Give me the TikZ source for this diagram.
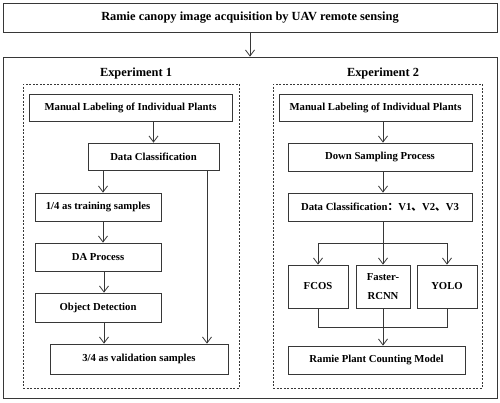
\documentclass[tikz,border=0pt]{standalone}
\usepackage{fontspec}
\setmainfont{Liberation Serif}
\newfontfamily\cjk{Noto Sans CJK SC}
\usepackage{tikz}
\usetikzlibrary{positioning}
\usetikzlibrary{arrows.meta}
\definecolor{linegray}{RGB}{55,55,55}

\begin{document}
\begin{tikzpicture}[x=1pt, y=-1pt]

\tikzset{box/.style={
		draw=linegray,
		line width=0.8pt,
		minimum width=#1,
		minimum height=28,
		inner sep=1pt,
		align=center,
		font=\fontsize{10.7}{12}\selectfont\bfseries
	},
	box/.default=126,
	frame/.style={draw=linegray, line width=0.8pt, dash pattern=on 2pt off 1.5pt, inner sep=0pt},
	head/.style={font=\fontsize{12.4}{14}\selectfont\bfseries},
	line/.style={draw=linegray, line width=0.8pt},
	flow/.style={line, -{Straight Barb[length=6pt,width=9pt]}}
}
\useasboundingbox (0,0) rectangle (500,402);

\node[box=494, minimum height=29, head] (acq) at (250,17.5) {Ramie canopy image acquisition by UAV remote sensing};
\node[draw=linegray, line width=0.8pt, inner sep=0pt, minimum width=494, minimum height=341] (outer) at (250,227.5) {};
\node[frame, minimum width=216, minimum height=304] (frame1) at (131,236) {};
\node[frame, minimum width=209, minimum height=304] (frame2) at (377.5,236) {};
\node[head] (exp1) at (136,74) {Experiment 1};
\node[head] (exp2) at (383,74) {Experiment 2};

% experiment 1
\node[box=203, minimum height=27] (man1) at (130.5,107.5) {Manual Labeling of Individual Plants};
\node[box=131, minimum height=27] (dc1) at (153.5,156.5) {Data Classification};
\node[box] (train) at (98,207) {1/4 as training samples};
\node[box] (da) at (98,257) {DA Process};
\node[box, minimum height=29] (od) at (98,307.5) {Object Detection};
\node[box=178, minimum height=30] (val) at (139,359) {3/4 as validation samples};

% experiment 2
\node[box=193, minimum height=27] (man2) at (375.5,107.5) {Manual Labeling of Individual Plants};
\node[box=184] (ds) at (380,157) {Down Sampling Process};
\node[box=184] (dc2) at (380,207) {Data Classification{\cjk ：}V1{\cjk 、}V2{\cjk 、}V3};
\node[box=60, minimum height=43] (fcos) at (318,286.5) {FCOS};
\node[box=54, minimum height=43, font=\fontsize{10.7}{19}\selectfont\bfseries] (frcnn) at (383,286.5) {Faster-\\RCNN};
\node[box=60, minimum height=43] (yolo) at (447,286.5) {YOLO};
\node[box=177] (rpcm) at (376.5,360) {Ramie Plant Counting Model};
\coordinate (fork) at (383,243);
\coordinate (join) at (383,327);

\draw[flow] (acq) -- (outer);

\draw[flow] (man1.south -| dc1) -- (dc1);
\draw[flow] ([xshift=5pt]train.north |- dc1.south) -- ([xshift=5pt]train.north);
\draw[flow] ([xshift=5pt]train.south) -- ([xshift=5pt]da.north);
\draw[flow] ([xshift=6pt]da.south) -- ([xshift=6pt]od.north);
\draw[flow] ([xshift=6pt]od.south) -- ([xshift=6pt]od.south |- val.north);
\draw[flow] ([xshift=53.5pt]dc1.south) -- ([xshift=53.5pt]dc1.south |- val.north);

\draw[flow] (man2.south -| frcnn) -- (ds.north -| frcnn);
\draw[flow] (ds.south -| frcnn) -- (dc2.north -| frcnn);
\draw[line] (dc2.south -| fork) -- (fork);
\draw[flow] (fork) -- (frcnn);
\draw[flow] (fork) -| (fcos);
\draw[flow] (fork) -| (yolo);
\draw[line] (fcos) |- (join);
\draw[line] (yolo) |- (join);
\draw[flow] (frcnn) -- (rpcm.north -| frcnn);

\end{tikzpicture}
\end{document}
